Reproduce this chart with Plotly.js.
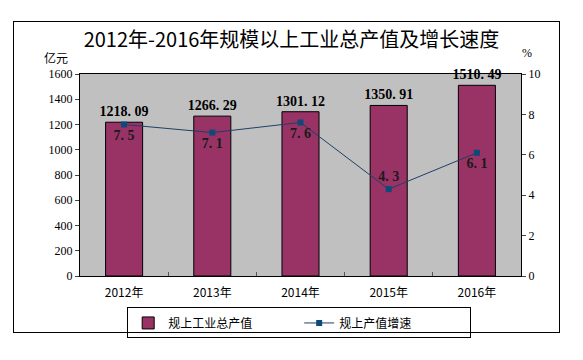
<!DOCTYPE html>
<html><head><meta charset="utf-8">
<script src="https://cdn.plot.ly/plotly-3.0.1.min.js"></script>
<style>
html,body{margin:0;padding:0;background:#fff;}
#chart{width:583px;height:360px;position:absolute;left:0;top:0;}
#frame{position:absolute;left:13px;top:21px;width:545px;height:310px;border:1px solid #000;pointer-events:none;}
</style></head>
<body>
<div id="chart"></div>
<div id="frame"></div>
<script>
const years = ["2012年","2013年","2014年","2015年","2016年"];
const outputValue = [1218.09,1266.29,1301.12,1350.91,1510.49];
const growthRate = [7.5,7.1,7.6,4.3,6.1];
const outputLabels = ["1218. 09","1266. 29","1301. 12","1350. 91","1510. 49"];
const growthLabels = ["7. 5","7. 1","7. 6","4. 3","6. 1"];
const seriesNames = ["规上工业总产值","规上产值增速"];

const cjk = '"Noto Sans CJK SC", "Noto Sans", sans-serif';
const serif = '"Liberation Serif", "DejaVu Serif", serif';

const traces = [
  {
    type:'bar', x:years, y:outputValue, name:seriesNames[0],
    marker:{color:'#993366', line:{color:'#000', width:1}},
    text:outputLabels, textposition:'outside', cliponaxis:false, constraintext:'none',
    textfont:{family:serif, size:14, color:'#000', weight:'bold'},
    hoverinfo:'skip'
  },
  {
    type:'scatter', mode:'lines+markers+text', x:years, y:growthRate, yaxis:'y2', name:seriesNames[1],
    line:{color:'#1F3F66', width:1},
    marker:{symbol:'square', size:6, color:'#0E4A78'},
    text:growthLabels,
    textposition:['bottom center','bottom center','bottom center','top center','bottom center'],
    textfont:{family:serif, size:14, color:'#1a1a1a', weight:'bold'},
    cliponaxis:false, hoverinfo:'skip'
  }
];

const layout = {
  width:583, height:360,
  margin:{l:80, r:62, t:74, b:84},
  paper_bgcolor:'rgba(0,0,0,0)',
  plot_bgcolor:'#C0C0C0',
  bargap:0.58,
  showlegend:true,
  title:{text:'2012年-2016年规模以上工业总产值及增长速度', x:0.5, xref:'container', y:0.889, yref:'container', yanchor:'middle',
         font:{family:'"Noto Sans CJK SC", serif', size:20, color:'#000'}},
  xaxis:{type:'category', tickson:'boundaries', ticks:'inside', ticklen:4, tickcolor:'#555',
         showline:true, linecolor:'#000', linewidth:1, mirror:true, showgrid:false, ticklabelstandoff:6,
         tickfont:{family:cjk, size:12, color:'#000'}, range:[-0.5,4.5]},
  yaxis:{range:[0,1600], dtick:200, ticks:'outside', ticklen:4, tickcolor:'#444',
         showline:true, linecolor:'#000', linewidth:1, mirror:true, showgrid:false, zeroline:false,
         tickfont:{family:serif, size:12, color:'#000'}},
  yaxis2:{range:[0,10], dtick:2, overlaying:'y', side:'right', ticks:'outside', ticklen:4, tickcolor:'#444',
          showline:true, linecolor:'#000', linewidth:1, showgrid:false, zeroline:false,
          tickfont:{family:serif, size:12, color:'#000'}},
  legend:{orientation:'h', x:0.497, xanchor:'center', yref:'container', y:0.146, yanchor:'top',
          bordercolor:'#000', borderwidth:1, bgcolor:'#fff', tracegroupgap:0, itemwidth:30,
          font:{family:cjk, size:12, color:'#000'}, entrywidth:126, traceorder:'normal'},
  annotations:[
    {text:'亿元', xref:'paper', yref:'paper', x:-0.023, y:1.08, xanchor:'right', yanchor:'middle', showarrow:false,
     font:{family:cjk, size:12, color:'#000'}},
    {text:'%', xref:'paper', yref:'paper', x:1.0136, y:1.104, xanchor:'center', yanchor:'middle', showarrow:false,
     font:{family:serif, size:12, color:'#000'}}
  ]
};

Plotly.newPlot('chart', traces, layout, {displayModeBar:false, staticPlot:true});
</script>
</body></html>
